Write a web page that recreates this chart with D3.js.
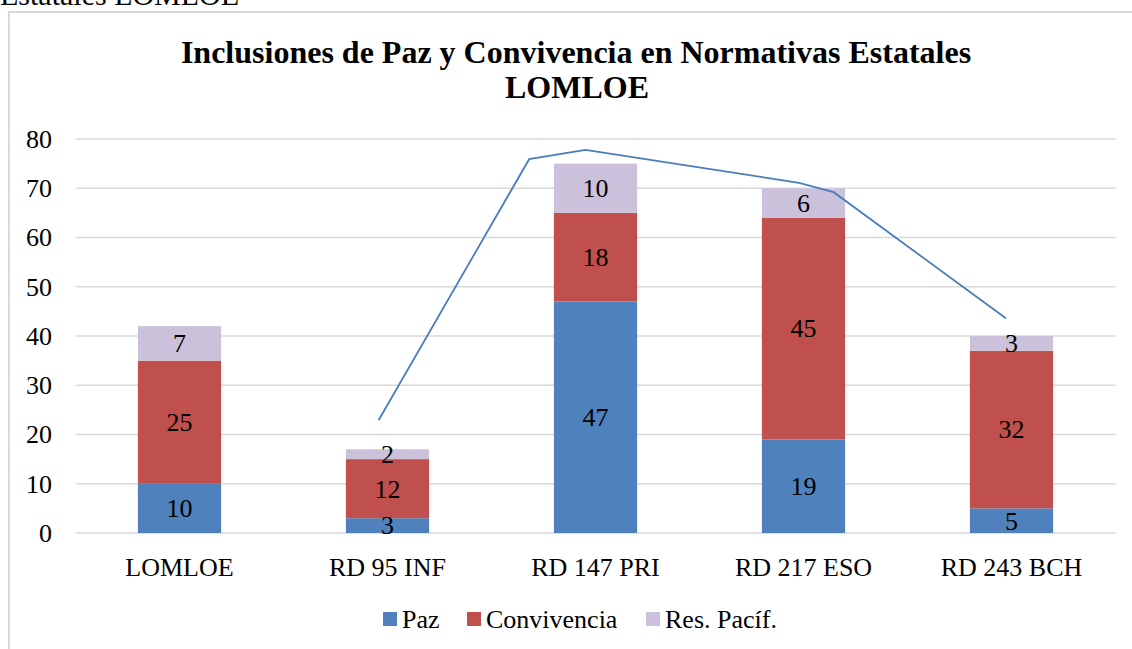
<!DOCTYPE html>
<html>
<head>
<meta charset="utf-8">
<script src="https://cdn.jsdelivr.net/npm/d3@7"></script>
</head>
<body style="margin:0;background:#fff">
<div id="chart"></div>
<script>
const categories = ['LOMLOE', 'RD 95 INF', 'RD 147 PRI', 'RD 217 ESO', 'RD 243 BCH'];
const seriesNames = ['Paz', 'Convivencia', 'Res. Pacíf.'];
const paz = [10, 3, 47, 19, 5];
const convivencia = [25, 12, 18, 45, 32];
const resPacif = [7, 2, 10, 6, 3];
const yTicks = [0, 10, 20, 30, 40, 50, 60, 70, 80];
// freehand trend line drawn over the chart: [category position, value]
const trendLine = [[0.957, 22.9], [1.681, 75.9], [1.952, 77.8], [2.979, 71.1], [3.145, 69.2], [3.973, 43.6]];

const colors = ['#4f81bd', '#c0504d', '#ccc1da'];
const serif = "'Liberation Serif', serif";

const W = 1132;
const H = 649;
const plot = { left: 75.5, right: 1115.5, top: 139, bottom: 533 };

const svg = d3.select('#chart').append('svg')
  .attr('width', W)
  .attr('height', H)
  .style('display', 'block');

const addText = (sel) => sel.append('text').style('font-family', serif);

// page text cut off above the chart frame
addText(svg)
  .attr('x', 0)
  .attr('y', 5)
  .style('font-size', '30px')
  .text('Estatales LOMLOE');

svg.append('rect')
  .attr('x', 9)
  .attr('y', 12)
  .attr('width', W + 20)
  .attr('height', H + 20)
  .attr('fill', 'none')
  .attr('stroke', '#d9d9d9')
  .attr('stroke-width', 2);

addText(svg)
  .attr('x', 576)
  .attr('y', 63)
  .attr('text-anchor', 'middle')
  .style('font-size', '32px')
  .style('font-weight', 'bold')
  .text('Inclusiones de Paz y Convivencia en Normativas Estatales');

addText(svg)
  .attr('x', 577)
  .attr('y', 98)
  .attr('text-anchor', 'middle')
  .style('font-size', '32px')
  .style('font-weight', 'bold')
  .text('LOMLOE');

const x = d3.scaleBand()
  .domain(categories)
  .range([plot.left, plot.right])
  .paddingInner(0.6)
  .paddingOuter(0.3);

const y = d3.scaleLinear()
  .domain([0, 80])
  .range([plot.bottom, plot.top]);

// gridlines
svg.append('g')
  .selectAll('line')
  .data(yTicks)
  .join('line')
  .attr('x1', plot.left)
  .attr('x2', plot.right)
  .attr('y1', d => y(d))
  .attr('y2', d => y(d))
  .attr('stroke', '#d9d9d9')
  .attr('stroke-width', 1.5);

// y tick labels
svg.append('g')
  .selectAll('text')
  .data(yTicks)
  .join('text')
  .style('font-family', serif)
  .attr('x', 52)
  .attr('y', d => y(d))
  .attr('dy', '0.34em')
  .attr('text-anchor', 'end')
  .style('font-size', '26px')
  .text(d => d);

const rows = categories.map((c, i) => ({
  cat: c,
  'Paz': paz[i],
  'Convivencia': convivencia[i],
  'Res. Pacíf.': resPacif[i],
}));

const stacked = d3.stack().keys(seriesNames)(rows);

const layers = svg.append('g')
  .selectAll('g')
  .data(stacked)
  .join('g')
  .attr('fill', (d, i) => colors[i]);

layers.selectAll('rect')
  .data(d => d)
  .join('rect')
  .attr('x', d => x(d.data.cat))
  .attr('width', x.bandwidth())
  .attr('y', d => y(d[1]))
  .attr('height', d => y(d[0]) - y(d[1]));

// data labels
svg.append('g')
  .selectAll('g')
  .data(stacked)
  .join('g')
  .selectAll('text')
  .data(d => d.map(v => ({ v, key: d.key })))
  .join('text')
  .style('font-family', serif)
  .attr('x', d => x(d.v.data.cat) + x.bandwidth() / 2)
  .attr('y', d => y((d.v[0] + d.v[1]) / 2))
  .attr('dy', '0.34em')
  .attr('text-anchor', 'middle')
  .style('font-size', '26px')
  .attr('fill', '#000')
  .text(d => d.v.data[d.key]);

// category labels
svg.append('g')
  .selectAll('text')
  .data(categories)
  .join('text')
  .style('font-family', serif)
  .attr('x', d => x(d) + x.bandwidth() / 2)
  .attr('y', 576)
  .attr('text-anchor', 'middle')
  .style('font-size', '26px')
  .text(d => d);

// trend line, positioned in category units
const xPos = d3.scaleLinear()
  .domain([0, categories.length - 1])
  .range([x(categories[0]) + x.bandwidth() / 2, x(categories[categories.length - 1]) + x.bandwidth() / 2]);

const line = d3.line()
  .x(d => xPos(d[0]))
  .y(d => y(d[1]));

svg.append('path')
  .datum(trendLine)
  .attr('d', line)
  .attr('fill', 'none')
  .attr('stroke', '#4a7ebb')
  .attr('stroke-width', 1.8);

// legend
const legendX = [383, 467, 646];
const legend = svg.append('g')
  .selectAll('g')
  .data(seriesNames)
  .join('g')
  .attr('transform', (d, i) => `translate(${legendX[i]},612)`);

legend.append('rect')
  .attr('width', 14)
  .attr('height', 14)
  .attr('fill', (d, i) => colors[i]);

legend.append('text')
  .style('font-family', serif)
  .attr('x', 19)
  .attr('y', 16)
  .style('font-size', '26px')
  .text(d => d);
</script>
</body>
</html>
